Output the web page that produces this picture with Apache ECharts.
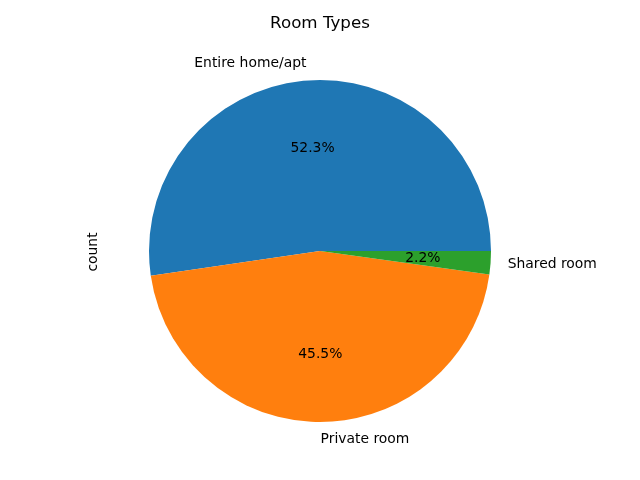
<!DOCTYPE html>
<html lang="en">
<head>
    <meta charset="UTF-8">
    <title>Room Types</title>
    <style>
        html, body { margin: 0; padding: 0; background: #fff; }
        #main { width: 640px; height: 480px; }
    </style>
</head>
<body>
    <div id="main"></div>
    <script src="https://cdn.jsdelivr.net/npm/echarts@6/dist/echarts.min.js"></script>
    <script>
        // data (shares in percent)
        const categories = ['Entire home/apt', 'Private room', 'Shared room'];
        const counts = [52.3, 45.5, 2.2];
        const colors = ['#1f77b4', '#ff7f0e', '#2ca02c'];

        const font = 'DejaVu Sans';
        const cx = 320, cy = 251, r = 171;

        const chart = echarts.init(document.getElementById('main'));

        const pieData = categories.map((name, i) => ({
            name: name,
            value: counts[i],
            itemStyle: { color: colors[i] }
        }));

        // transparent copy only used to place the percentage labels at 0.6 r
        const pctData = categories.map((name, i) => ({
            name: name,
            value: counts[i],
            itemStyle: { color: 'rgba(0,0,0,0)' }
        }));

        const option = {
            animation: false,
            title: {
                text: 'Room Types',
                left: 'center',
                top: 10,
                textStyle: { fontFamily: font, fontSize: 16.7, fontWeight: 'normal', color: '#000' }
            },
            graphic: [{
                type: 'text',
                x: 93,
                y: 252,
                rotation: Math.PI / 2,
                style: {
                    text: 'count',
                    fontFamily: font,
                    fontSize: 13.9,
                    fill: '#000',
                    align: 'center',
                    verticalAlign: 'middle'
                }
            }],
            series: [
                {
                    type: 'pie',
                    center: [cx, cy],
                    radius: [0, r],
                    startAngle: 0,
                    clockwise: false,
                    avoidLabelOverlap: false,
                    silent: true,
                    itemStyle: { borderWidth: 0 },
                    label: {
                        show: true,
                        position: 'outside',
                        formatter: '{b}',
                        fontFamily: font,
                        fontSize: 13.9,
                        color: '#000',
                        overflow: 'none',
                        distanceToLabelLine: 0
                    },
                    labelLine: { show: false, length: r * 0.1, length2: 0 },
                    data: pieData
                },
                {
                    type: 'pie',
                    center: [cx, cy],
                    radius: [0, r * 1.17],
                    startAngle: 0,
                    clockwise: false,
                    avoidLabelOverlap: false,
                    silent: true,
                    z: 3,
                    itemStyle: { borderWidth: 0 },
                    label: {
                        show: true,
                        position: 'inside',
                        formatter: p => p.value.toFixed(1) + '%',
                        fontFamily: font,
                        fontSize: 13.9,
                        color: '#000'
                    },
                    labelLine: { show: false },
                    data: pctData
                }
            ]
        };

        chart.setOption(option);
    </script>
</body>
</html>
